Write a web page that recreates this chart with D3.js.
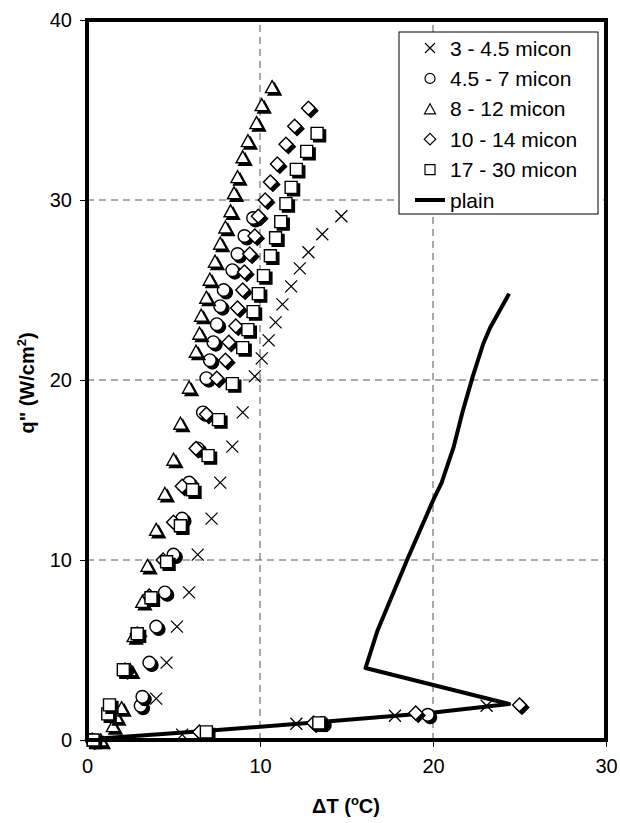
<!DOCTYPE html>
<html>
<head>
<meta charset="utf-8">
<script src="https://cdn.jsdelivr.net/npm/d3@7"></script>
<style>
  body { margin: 0; background: #fff; }
  text { font-family: Arial, "Liberation Sans", sans-serif; }
</style>
</head>
<body>
<svg id="chart" width="620" height="823"></svg>
<script>
// Boiling curves: heat flux q'' (W/cm²) against wall superheat ΔT (°C)
const legendLabels = ["3 - 4.5 micon", "4.5 - 7 micon", "8 - 12 micon", "10 - 14 micon", "17 - 30 micon", "plain"];
const xTicks = [0, 10, 20, 30];
const yTicks = [0, 10, 20, 30, 40];

// [ΔT, q''] pairs for each coating particle size
const micon3to45 = [
  [5.5, 0.3], [12.1, 0.9], [17.8, 1.35], [23.1, 1.9], [4.0, 2.3], [4.6, 4.3], [5.2, 6.3],
  [5.9, 8.2], [6.4, 10.3], [7.2, 12.3], [7.7, 14.3], [8.4, 16.3], [9.0, 18.2], [9.7, 20.2],
  [10.1, 21.2], [10.5, 22.2], [10.9, 23.2], [11.3, 24.2], [11.8, 25.2], [12.3, 26.2],
  [12.8, 27.1], [13.6, 28.1], [14.7, 29.1]
];
const micon45to7 = [
  [0.3, 0], [13.6, 0.95], [19.7, 1.4], [3.1, 1.9], [3.2, 2.4], [3.6, 4.3], [4.0, 6.3],
  [4.5, 8.2], [5.0, 10.3], [5.5, 12.3], [5.9, 14.3], [6.4, 16.2], [6.7, 18.2], [6.9, 20.1],
  [7.1, 21.1], [7.3, 22.1], [7.5, 23.1], [7.7, 24.1], [7.9, 25.0], [8.4, 26.1], [8.7, 27.0],
  [9.1, 28.0], [9.6, 29.0]
];
const micon8to12 = [
  [0.8, 0], [1.5, 0.8], [1.7, 1.3], [2.0, 1.8], [2.5, 3.9], [2.7, 5.8], [3.2, 7.7], [3.5, 9.7],
  [4.0, 11.7], [4.5, 13.7], [5.0, 15.6], [5.4, 17.6], [5.9, 19.6], [6.3, 21.6], [6.5, 22.6],
  [6.6, 23.6], [6.9, 24.6], [7.1, 25.6], [7.4, 26.6], [7.7, 27.6], [8.0, 28.5], [8.3, 29.4],
  [8.5, 30.4], [8.7, 31.3], [9.0, 32.4], [9.3, 33.3], [9.8, 34.3], [10.1, 35.3], [10.7, 36.3]
];
const micon10to14 = [
  [0.3, 0], [6.5, 0.45], [13.1, 0.95], [19.0, 1.5], [25.0, 1.95], [2.2, 3.9], [2.9, 5.9],
  [3.6, 8.0], [4.4, 10.0], [5.0, 12.1], [5.5, 14.1], [6.3, 16.2], [6.9, 18.1], [7.5, 20.1],
  [8.0, 21.1], [8.2, 22.1], [8.6, 23.0], [8.7, 24.0], [9.0, 25.0], [9.1, 26.0], [9.4, 27.0],
  [9.7, 28.0], [9.9, 29.1], [10.3, 30.0], [10.6, 31.0], [11.0, 32.0], [11.5, 33.1],
  [12.0, 34.1], [12.8, 35.1]
];
const micon17to30 = [
  [0.35, 0], [6.9, 0.45], [13.4, 0.95], [1.2, 1.45], [1.3, 1.95], [2.1, 3.9], [2.9, 5.9],
  [3.7, 7.9], [4.6, 9.9], [5.4, 11.9], [6.1, 13.9], [7.0, 15.8], [7.6, 17.8], [8.4, 19.8],
  [9.0, 21.8], [9.3, 22.8], [9.6, 23.8], [9.9, 24.8], [10.2, 25.8], [10.6, 26.9], [10.9, 27.9],
  [11.2, 28.8], [11.5, 29.8], [11.8, 30.7], [12.1, 31.7], [12.7, 32.7], [13.3, 33.7]
];
// uncoated (plain) surface
const plainCurve = [
  [0.3, 0.05], [6.8, 0.5], [13.5, 1.0], [19.8, 1.5], [24.4, 2.0], [16.1, 4.0], [16.8, 6.1],
  [18.5, 10.0], [20.0, 13.3], [20.5, 14.3], [21.2, 16.3], [21.7, 18.2], [22.3, 20.2],
  [22.9, 22.0], [23.3, 22.9], [24.4, 24.8]
];

const W = 620, H = 823;
const margin = { left: 87, right: 14, top: 20, bottom: 83 };
const svg = d3.select("#chart");

const x = d3.scaleLinear().domain([0, 30]).range([margin.left, W - margin.right]);
const y = d3.scaleLinear().domain([0, 40]).range([H - margin.bottom, margin.top]);

// marker path builders (centered at 0,0)
const shapes = {
  cross: s => `M${-s},${-s}L${s},${s}M${-s},${s}L${s},${-s}`,
  circle: s => `M${-s},0A${s},${s} 0 1,0 ${s},0A${s},${s} 0 1,0 ${-s},0Z`,
  triangle: s => `M0,${-s}L${s * 1.1},${s}L${-s * 1.1},${s}Z`,
  diamond: s => `M0,${-s * 1.15}L${s * 1.15},0L0,${s * 1.15}L${-s * 1.15},0Z`,
  square: s => `M${-s},${-s}H${s}V${s}H${-s}Z`
};

const series = [
  { data: micon3to45, shape: "cross", size: 6 },
  { data: micon45to7, shape: "circle", size: 6.3 },
  { data: micon8to12, shape: "triangle", size: 6 },
  { data: micon10to14, shape: "diamond", size: 6 },
  { data: micon17to30, shape: "square", size: 6 }
];

// grid lines
const grid = svg.append("g");
grid.selectAll("line.gx").data(xTicks.filter(d => d > 0 && d < 30)).join("line")
  .attr("x1", d => x(d)).attr("x2", d => x(d))
  .attr("y1", y(0)).attr("y2", y(40))
  .attr("stroke", "#555").attr("stroke-width", 1).attr("stroke-dasharray", "7,5");
grid.selectAll("line.gy").data(yTicks.filter(d => d > 0 && d < 40)).join("line")
  .attr("y1", d => y(d)).attr("y2", d => y(d))
  .attr("x1", x(0)).attr("x2", x(30))
  .attr("stroke", "#555").attr("stroke-width", 1).attr("stroke-dasharray", "7,5");

// plain surface curve
svg.append("path")
  .datum(plainCurve)
  .attr("d", d3.line().x(d => x(d[0])).y(d => y(d[1])))
  .attr("fill", "none").attr("stroke", "#000").attr("stroke-width", 4)
  .attr("stroke-linejoin", "round");

// markers with a drop shadow
series.forEach(s => {
  const g = svg.append("g");
  const pathStr = shapes[s.shape](s.size);
  const pts = g.selectAll("g").data(s.data).join("g")
    .attr("transform", d => `translate(${x(d[0])},${y(d[1])})`);
  if (s.shape === "cross") {
    pts.append("path").attr("d", pathStr)
      .attr("fill", "none").attr("stroke", "#000").attr("stroke-width", 1.3);
  } else {
    pts.append("path").attr("d", pathStr)
      .attr("transform", "translate(2.5,2.5)")
      .attr("fill", "#000").attr("stroke", "#000").attr("stroke-width", 1.3);
    pts.append("path").attr("d", pathStr)
      .attr("fill", "#fff").attr("stroke", "#000").attr("stroke-width", 1.4);
  }
});

// axes
const xAxis = svg.append("g")
  .attr("transform", `translate(0,${y(0)})`)
  .call(d3.axisBottom(x).tickValues(xTicks).tickSize(7).tickPadding(12));
const yAxis = svg.append("g")
  .attr("transform", `translate(${x(0)},0)`)
  .call(d3.axisLeft(y).tickValues(yTicks).tickSize(7).tickPadding(8));
[xAxis, yAxis].forEach(a => {
  a.select(".domain").remove();
  a.selectAll("text").attr("font-size", 20).attr("fill", "#000")
    .style("font-family", "Arial, 'Liberation Sans', sans-serif");
  a.selectAll("line").attr("stroke", "#000").attr("stroke-width", 1);
});

// plot frame
svg.append("rect")
  .attr("x", x(0)).attr("y", y(40))
  .attr("width", x(30) - x(0)).attr("height", y(0) - y(40))
  .attr("fill", "none").attr("stroke", "#000").attr("stroke-width", 4);

// axis titles
const xt = svg.append("text")
  .attr("x", 346).attr("y", 813).attr("text-anchor", "middle")
  .attr("font-size", 20).attr("font-weight", "bold");
xt.append("tspan").text("ΔT (");
xt.append("tspan").attr("font-size", 13).attr("dy", -8).text("o");
xt.append("tspan").attr("dy", 8).text("C)");

const yt = svg.append("text")
  .attr("transform", "translate(34,383) rotate(-90)")
  .attr("text-anchor", "middle")
  .attr("font-size", 20).attr("font-weight", "bold");
yt.append("tspan").text("q\" (W/cm");
yt.append("tspan").attr("font-size", 13).attr("dy", -8).text("2");
yt.append("tspan").attr("dy", 8).text(")");

// legend
const lg = svg.append("g");
lg.append("rect")
  .attr("x", 399).attr("y", 32).attr("width", 199).attr("height", 182)
  .attr("fill", "#fff").attr("stroke", "#000").attr("stroke-width", 1);
legendLabels.forEach((label, i) => {
  const cy = 48 + i * 30.4;
  const row = lg.append("g").attr("transform", `translate(430,${cy})`);
  if (i < series.length) {
    row.append("path").attr("d", shapes[series[i].shape](5))
      .attr("fill", series[i].shape === "cross" ? "none" : "#fff")
      .attr("stroke", "#000").attr("stroke-width", 1.2);
  } else {
    row.append("line").attr("x1", -15).attr("x2", 15)
      .attr("stroke", "#000").attr("stroke-width", 4);
  }
  lg.append("text").attr("x", 450).attr("y", cy).attr("dy", "0.36em")
    .attr("font-size", 21).text(label);
});
</script>
</body>
</html>
